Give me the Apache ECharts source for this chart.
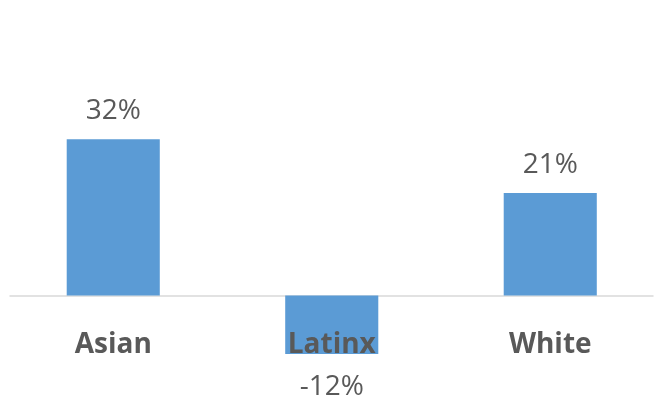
<!DOCTYPE html>
<html>
<head>
<meta charset="utf-8">
<script src="https://cdn.jsdelivr.net/npm/echarts@6/dist/echarts.min.js"></script>
<style>
  html, body { margin: 0; padding: 0; background: #ffffff; }
  #chart { width: 654px; height: 405px; }
</style>
</head>
<body>
<div id="chart"></div>
<script>
// Percentage change by group
const categories = ['Asian', 'Latinx', 'White'];
const changePct = [32, -12, 21];

const textColor = '#595959';
const barColor = '#5b9bd5';
const font = '"Open Sans", "Liberation Sans", sans-serif';

const chart = echarts.init(document.getElementById('chart'), null, { renderer: 'canvas' });

chart.setOption({
  animation: false,
  backgroundColor: '#ffffff',
  grid: [
    // plot area for the bars
    { left: 4, width: 655.5, top: 100.3, bottom: 11.9, outerBoundsMode: 'none', containLabel: false },
    // plot area that carries the visible baseline
    { left: 10, right: 1, top: 100.3, bottom: 11.9, outerBoundsMode: 'none', containLabel: false }
  ],
  xAxis: [
    {
      // category names sit just under the zero line, drawn above the bars
      type: 'category',
      gridIndex: 0,
      data: categories,
      z: 10,
      axisLine: { show: false, onZero: false },
      axisTick: { show: false },
      axisLabel: {
        margin: -62,
        color: textColor,
        fontFamily: font,
        fontSize: 28,
        fontWeight: 'bold'
      }
    },
    {
      type: 'category',
      gridIndex: 1,
      data: categories,
      axisLine: { show: true, onZero: true, lineStyle: { color: '#d9d9d9', width: 1.5 } },
      axisTick: { show: false },
      axisLabel: { show: false }
    }
  ],
  yAxis: [
    { type: 'value', gridIndex: 0, min: -20, max: 40, show: false, splitLine: { show: false } },
    { type: 'value', gridIndex: 1, min: -20, max: 40, show: false, splitLine: { show: false } }
  ],
  series: [
    {
      type: 'bar',
      xAxisIndex: 0,
      yAxisIndex: 0,
      barWidth: '42.6%',
      itemStyle: { color: barColor },
      data: changePct.map(v => ({
        value: v,
        label: v >= 0 ? { position: 'top', distance: 14 } : { position: 'bottom', distance: 19 }
      })),
      label: {
        show: true,
        color: textColor,
        fontFamily: font,
        fontSize: 28,
        formatter: p => p.value + '%'
      }
    }
  ]
});
</script>
</body>
</html>
